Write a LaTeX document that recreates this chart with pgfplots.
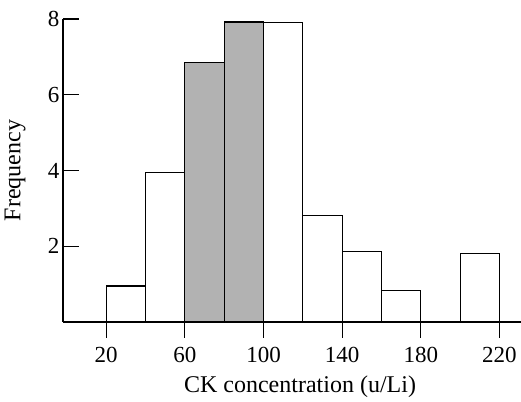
\documentclass[border=0pt]{standalone}
\usepackage{pgfplots}
\pgfplotsset{compat=1.18}
\usepackage{fontspec}
\setmainfont{Liberation Serif}

\begin{document}
\begin{tikzpicture}
\begin{axis}[
    scale only axis,
    width=458pt, height=303pt,
    xmin=-2, xmax=231,
    ymin=0, ymax=8,
    axis x line=bottom, axis y line=left,
    axis line style={-, line width=1.3pt},
    xtick={20,60,100,140,180,220},
    ytick={2,4,6,8},
    x tick style={line width=1.1pt, black},
    y tick style={line width=1.1pt, black},
    xtick align=outside, ytick align=inside,
    major tick length=16pt,
    tick label style={font=\fontsize{23}{27}\selectfont},
    label style={font=\fontsize{24}{28}\selectfont},
    /pgf/number format/assume math mode=true,
    x tick label style={yshift=-6pt},
    xlabel={CK concentration (u/Li)},
    ylabel={Frequency},
    xlabel style={at={([xshift=8pt,yshift=-65pt]axis description cs:0.5,0)}, anchor=center},
    ylabel style={at={([xshift=-48pt]axis description cs:0,0.5)}, anchor=center},
    clip=false,
]
% histogram counts
\addplot[ybar interval, fill=white, draw=black, line width=1.1pt]
  coordinates {(20,0.95) (40,3.95) (60,6.85) (80,7.92) (100,7.9) (120,2.82)
               (140,1.85) (160,0.82) (180,0) (200,1.82) (220,0)};
% shaded classes
\addplot[ybar interval, fill=black!30, draw=black, line width=1.1pt]
  coordinates {(60,6.85) (80,7.92) (100,0)};
\end{axis}
\pgfresetboundingbox
\path ([shift={(-63pt,-80pt)}]current axis.south west)
  rectangle ([shift={(0pt,19pt)}]current axis.north east);
\end{tikzpicture}
\end{document}
